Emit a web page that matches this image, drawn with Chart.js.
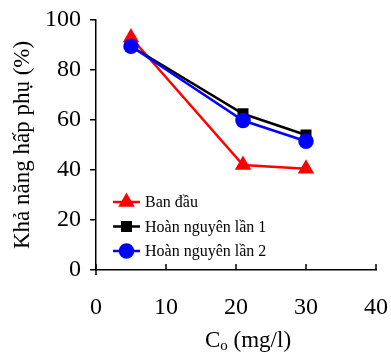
<!DOCTYPE html>
<html>
<head>
<meta charset="utf-8">
<script src="https://cdn.jsdelivr.net/npm/chart.js@4"></script>
<style>
  html, body { margin: 0; padding: 0; background: #fff; }
  #wrap { width: 391px; height: 356px; }
</style>
</head>
<body>
<div id="wrap"><canvas id="myChart" width="391" height="356"></canvas></div>
<script>
const concentrations = [5, 21, 30];
const banDau = [93, 42, 40.5];
const hoanNguyen1 = [89.5, 62.5, 54];
const hoanNguyen2 = [89.5, 59.8, 51.5];
const seriesNames = ["Ban đầu", "Hoàn nguyên lần 1", "Hoàn nguyên lần 2"];
const xTitle = ["C", "o", " (mg/l)"];

const serif = "'Liberation Serif', 'Times New Roman', serif";

function points(vals) {
  return concentrations.map((x, i) => ({ x: x, y: vals[i] }));
}

// inward ticks on the x axis, x title with subscript, legend with line + marker
const extras = {
  id: "extras",
  afterDraw(chart) {
    const c = chart.ctx;
    const xs = chart.scales.x;
    const area = chart.chartArea;
    c.save();
    c.strokeStyle = "#000";
    c.lineWidth = 1.5;
    xs.ticks.forEach(t => {
      const px = xs.getPixelForValue(t.value);
      c.beginPath();
      c.moveTo(px, area.bottom);
      c.lineTo(px, area.bottom - 6);
      c.stroke();
    });
    // small stub of y axis below x axis
    c.beginPath();
    c.moveTo(area.left, area.bottom);
    c.lineTo(area.left, area.bottom + 5);
    c.stroke();

    // x title: C subscript o (mg/l)
    c.fillStyle = "#000";
    c.textBaseline = "alphabetic";
    const big = "23px " + serif, small = "15px " + serif;
    c.font = big; const w1 = c.measureText(xTitle[0]).width; const w3 = c.measureText(xTitle[2]).width;
    c.font = small; const w2 = c.measureText(xTitle[1]).width;
    let x = (area.left + area.right) / 2 + 12 - (w1 + w2 + w3) / 2;
    const base = 347;
    c.font = big; c.fillText(xTitle[0], x, base); x += w1;
    c.font = small; c.fillText(xTitle[1], x, base + 3); x += w2;
    c.font = big; c.fillText(xTitle[2], x, base);

    // legend
    chart.data.datasets.forEach((ds, i) => {
      const y = 202 + i * 24.5;
      const x0 = area.left + 17, x1 = area.left + 44;
      c.strokeStyle = ds.borderColor;
      c.lineWidth = 2.5;
      c.beginPath();
      c.moveTo(x0, y);
      c.lineTo(x1, y);
      c.stroke();
      c.fillStyle = ds.pointBackgroundColor;
      c.strokeStyle = ds.pointBorderColor;
      Chart.helpers.drawPoint(c, {
        pointStyle: ds.pointStyle,
        radius: ds.pointRadius,
        rotation: 0,
        borderWidth: 1
      }, (x0 + x1) / 2, y);
      c.fillStyle = "#000";
      c.font = "16px " + serif;
      c.textBaseline = "middle";
      c.fillText(seriesNames[i], x1 + 5, y + 1);
    });
    c.restore();
  }
};

const ctx = document.getElementById("myChart").getContext("2d");
const myChart = new Chart(ctx, {
  type: "line",
  data: {
    datasets: [
      {
        label: seriesNames[0],
        data: points(banDau),
        borderColor: "#ff0000",
        pointBackgroundColor: "#ff0000",
        pointBorderColor: "#ff0000",
        pointStyle: "triangle",
        pointRadius: 7,
        borderWidth: 2.5,
        order: 3
      },
      {
        label: seriesNames[1],
        data: points(hoanNguyen1),
        borderColor: "#000000",
        pointBackgroundColor: "#000000",
        pointBorderColor: "#000000",
        pointStyle: "rect",
        pointRadius: 6,
        borderWidth: 2.5,
        order: 2
      },
      {
        label: seriesNames[2],
        data: points(hoanNguyen2),
        borderColor: "#0000ff",
        pointBackgroundColor: "#0000ff",
        pointBorderColor: "#0000ff",
        pointStyle: "circle",
        pointRadius: 6.5,
        borderWidth: 2.5,
        order: 1
      }
    ]
  },
  options: {
    responsive: false,
    animation: false,
    layout: { padding: { top: 20, right: 15, left: 0, bottom: 0 } },
    plugins: {
      legend: { display: false },
      tooltip: { enabled: false }
    },
    scales: {
      x: {
        type: "linear",
        min: 0,
        max: 40,
        afterFit(s) { s.height = 86; s.paddingLeft = 0; s.paddingRight = 0; },
        ticks: { stepSize: 10, color: "#000", font: { family: serif, size: 24 }, padding: 15 },
        grid: { display: false },
        border: { display: true, color: "#000", width: 1.5 },
        title: { display: false }
      },
      y: {
        min: 0,
        max: 100,
        afterFit(s) { s.width = 96; s.paddingTop = 0; s.paddingBottom = 0; },
        ticks: { stepSize: 20, color: "#000", font: { family: serif, size: 24 }, padding: 9 },
        grid: { drawOnChartArea: false, tickLength: 6, color: "#000", lineWidth: 1.5 },
        border: { display: true, color: "#000", width: 1.5 },
        title: {
          display: true,
          text: "Khả năng hấp phụ (%)",
          color: "#000",
          font: { family: serif, size: 23 },
          padding: { top: 9, bottom: 0 }
        }
      }
    }
  },
  plugins: [extras]
});
</script>
</body>
</html>
